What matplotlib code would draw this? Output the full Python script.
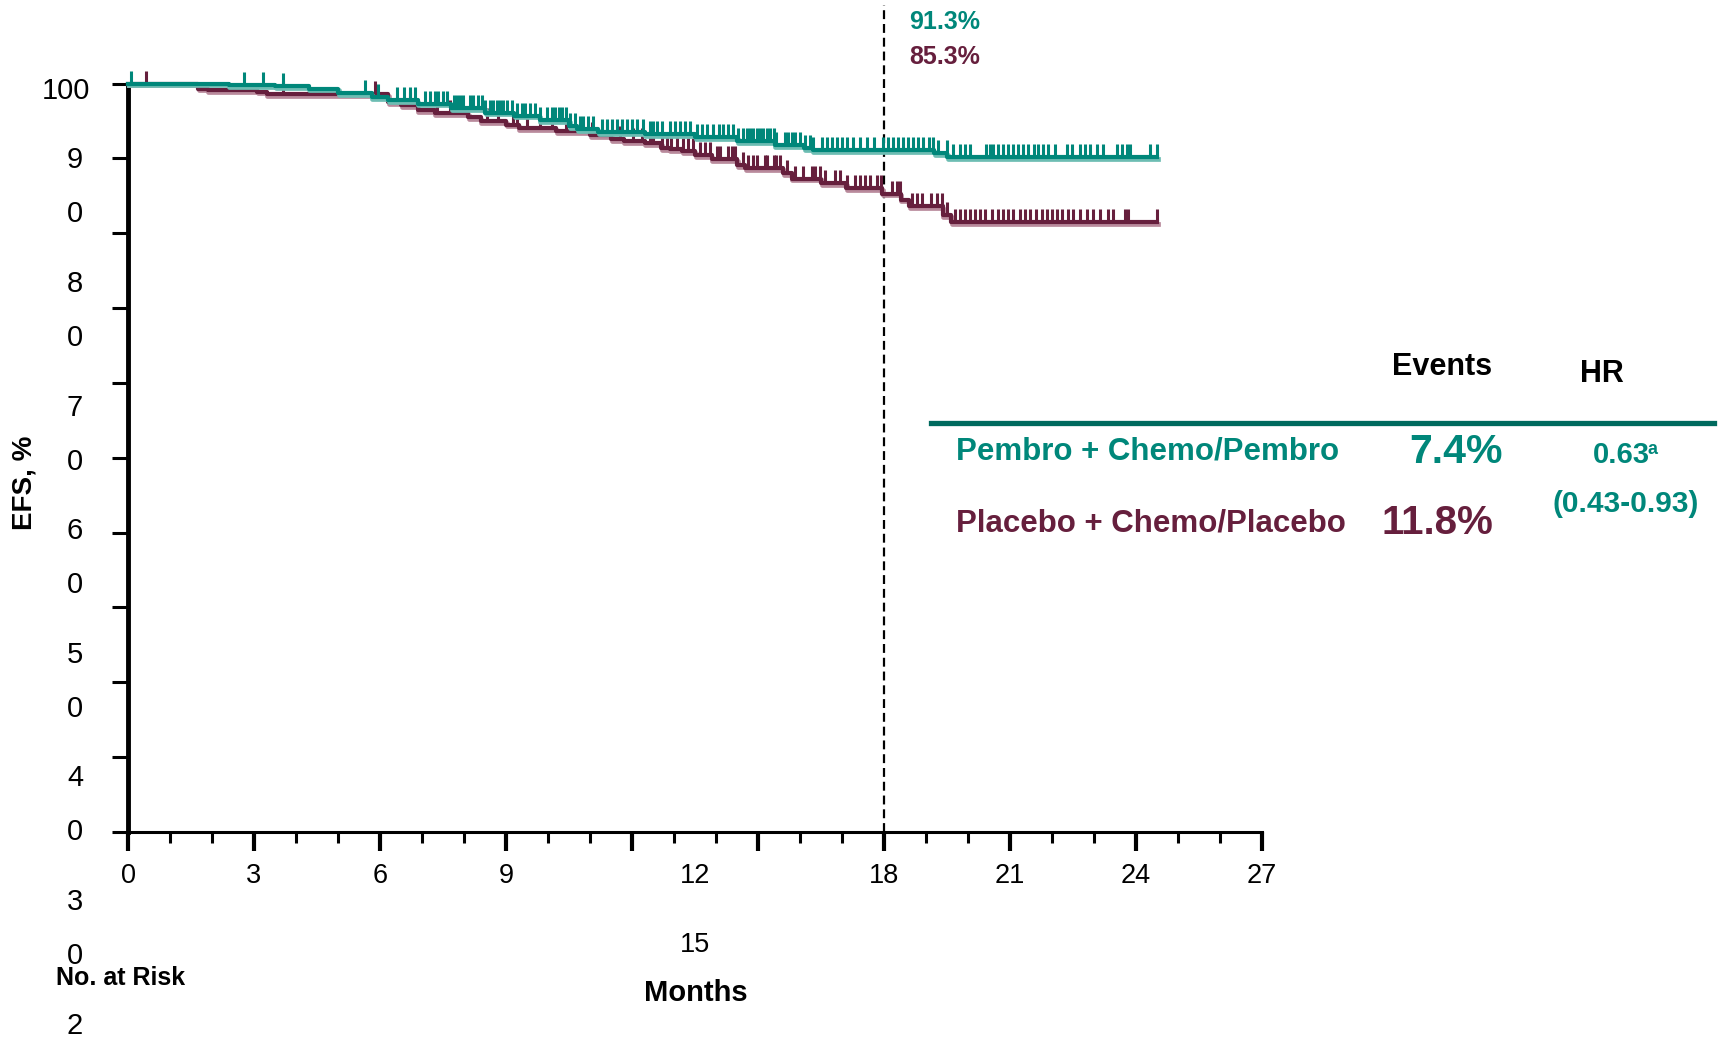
import numpy as np
import matplotlib
matplotlib.use("Agg")
import matplotlib.pyplot as plt
import matplotlib.patheffects as pe
from matplotlib.transforms import blended_transform_factory

plt.rcParams['font.family'] = ['Liberation Sans', 'DejaVu Sans']

# colours
TEAL = '#00877A'
MAROON = '#661F3D'
RULE = '#006A5E'

# KM step data (months, EFS %)
pembro_t = [0, 2.4, 3.5, 4.3, 5.0, 5.8, 6.2, 6.9, 7.7, 8.5, 9.2, 9.8, 10.5, 10.7,
            11.2, 12.3, 13.5, 14.5, 15.4, 16.1, 16.3, 19.2, 19.5]
pembro_s = [100, 99.8, 99.6, 99.3, 98.7, 98.2, 97.8, 97.3, 96.7, 96.1, 95.7, 95.1, 94.3, 93.9,
            93.5, 93.2, 92.8, 92.3, 91.8, 91.4, 91.1, 90.7, 90.2]
placebo_t = [0, 1.67, 1.9, 3.07, 3.3, 6.2, 6.5, 6.9, 7.3, 8.1, 8.4, 9.0, 9.3, 10.2, 11.0,
             11.5, 11.8, 12.3, 12.7, 12.9, 13.2, 13.5, 13.9, 14.5, 14.7, 15.6, 15.8, 16.5,
             17.1, 17.95, 18.4, 18.6, 19.4, 19.6]
placebo_s = [100, 99.3, 99.1, 98.9, 98.6, 97.5, 97.1, 96.4, 96.0, 95.5, 95.0, 94.5, 94.0, 93.6, 93.1,
             92.6, 92.3, 92.0, 91.4, 91.2, 91.0, 90.4, 89.9, 89.1, 88.7, 88.0, 87.3, 86.7,
             86.0, 85.3, 84.5, 83.6, 82.4, 81.5]
end_t = 24.5

# censoring times (months)
pembro_cens = [0.07, 2.75, 3.21, 3.70, 5.64, 5.96, 6.40, 6.56, 6.71, 6.83, 7.07, 7.19, 7.31, 7.39,
               7.51, 7.59, 7.75, 7.83, 7.90, 7.98, 8.14, 8.22, 8.34, 8.42, 8.50, 8.62, 8.70, 8.78,
               8.86, 8.94, 9.02, 9.14, 9.25, 9.37, 9.45, 9.57, 9.69, 9.81, 9.97, 10.09, 10.17,
               10.25, 10.33, 10.44, 10.52, 10.64, 10.76, 10.84, 10.96, 11.08, 11.28, 11.40, 11.52,
               11.64, 11.75, 11.87, 11.99, 12.11, 12.27, 12.43, 12.51, 12.59, 12.71, 12.90, 13.02,
               13.14, 13.26, 13.38, 13.54, 13.66, 13.78, 13.94, 14.06, 14.17, 14.29, 14.41, 14.53,
               14.65, 14.73, 14.81, 14.89, 14.97, 15.05, 15.13, 15.21, 15.29, 15.37, 15.44, 15.64,
               15.72, 15.80, 15.88, 16.00, 16.12, 16.24, 16.32, 16.52, 16.64, 16.75, 16.87, 16.99,
               17.11, 17.27, 17.43, 17.59, 17.75, 17.98, 18.10, 18.22, 18.34, 18.46, 18.58, 18.70,
               18.82, 18.94, 19.06, 19.17, 19.29, 19.49, 19.65, 19.81, 19.93, 20.05, 20.44, 20.52,
               20.60, 20.72, 20.84, 20.96, 21.08, 21.20, 21.32, 21.44, 21.56, 21.67, 21.79, 21.91,
               22.07, 22.35, 22.47, 22.67, 22.79, 22.90, 23.06, 23.22, 23.54, 23.66, 23.78, 23.86,
               24.33, 24.49]
placebo_cens = [0.43, 3.70, 5.88, 6.71, 7.35, 7.67, 8.54, 8.82, 9.17, 9.25, 9.49, 9.81, 10.09, 10.44,
                11.04, 11.40, 11.71, 12.03, 12.23, 12.43, 12.51, 12.71, 12.83, 12.94, 13.06, 13.22,
                13.34, 13.46, 13.62, 13.74, 13.86, 14.02, 14.10, 14.29, 14.37, 14.45, 14.65, 14.77,
                14.89, 14.97, 15.17, 15.21, 15.37, 15.44, 15.52, 15.68, 15.88, 16.08, 16.28, 16.36,
                16.48, 16.60, 16.83, 16.95, 17.11, 17.31, 17.43, 17.55, 17.67, 17.83, 17.94, 18.18,
                18.30, 18.38, 18.66, 18.78, 18.90, 19.13, 19.25, 19.37, 19.49, 19.69, 19.81, 19.93,
                20.05, 20.17, 20.29, 20.40, 20.56, 20.72, 20.84, 20.96, 21.08, 21.24, 21.36, 21.48,
                21.63, 21.75, 21.87, 21.99, 22.11, 22.23, 22.39, 22.51, 22.67, 22.83, 22.98, 23.14,
                23.34, 23.46, 23.74, 23.82, 24.49]

# text content
y_tick_text = ['100', '90', '80', '70', '60', '50', '40', '30', '20']
x_tick_text = ['0', '3', '6', '9', '12', '15', '18', '21', '24', '27']
landmark = 18
landmark_text = ['91.3%', '85.3%']
arms = ['Pembro + Chemo/Pembro', 'Placebo + Chemo/Placebo']
events = ['7.4%', '11.8%']
hr_text = '0.63'
hr_ci = '(0.43-0.93)'

W, H = 1723, 1037


def fx(px):
    return px / W


def fy(py):
    return 1 - py / H


def ftext(x, y, s, **kw):
    kw.setdefault('ha', 'center')
    kw.setdefault('va', 'center')
    fig.text(fx(x), fy(y), s, **kw)


def draw_arm(ax, t, s, cens, color, halo):
    t = np.array(t + [end_t])
    s = np.array(s + [s[-1]])
    ax.step(t, s, where='post', color=color, lw=3.0, clip_on=False, zorder=3,
            path_effects=[pe.Stroke(linewidth=3.4, foreground=halo, offset=(0.5, -1.2)),
                          pe.Normal()])
    idx = np.searchsorted(t, np.array(cens), side='right') - 1
    ax.plot(cens, s[idx], ls='none', marker=[(0, 0), (0, 1)], ms=19, mew=2.2,
            mec=color, color=color, clip_on=False, zorder=3)


fig = plt.figure(figsize=(W / 100, H / 100), dpi=100)
ax = fig.add_axes([fx(128), fy(832), fx(1262) - fx(128), fy(83.5) - fy(832)])
ax.set_xlim(0, 27)
ax.set_ylim(0, 100)

draw_arm(ax, placebo_t, placebo_s, placebo_cens, MAROON, '#B98A9C')
draw_arm(ax, pembro_t, pembro_s, pembro_cens, TEAL, '#6DBDB3')

ax.plot([landmark, landmark], [0, 110.5], color='black', lw=1.6, dashes=(4, 2.2),
        clip_on=False, zorder=2)

for side in ['top', 'right']:
    ax.spines[side].set_visible(False)
ax.spines['left'].set_linewidth(3.5)
ax.spines['bottom'].set_linewidth(2.2)
ax.set_yticks(np.arange(0, 101, 10))
ax.set_xticks(np.arange(0, 28, 3))
ax.set_xticks(np.arange(0, 28, 1), minor=True)
ax.tick_params(axis='y', length=11.5, width=2.2, direction='out', labelleft=False)
ax.tick_params(axis='x', which='major', length=14, width=3, labelbottom=False)
ax.tick_params(axis='x', which='minor', length=8, width=2.2)

# y labels wrapped digit by digit, as in the source slide
ftext(66, 91, y_tick_text[0], fontsize=21)
for k, lab in enumerate(y_tick_text[1:]):
    y0 = 160.4 + k * 123.6
    ftext(75, y0, lab[0], fontsize=21)
    ftext(75, y0 + 54, lab[1], fontsize=21)

# x labels (12 and 15 are displaced in the source)
tr = blended_transform_factory(ax.transData, fig.transFigure)
for lab in x_tick_text:
    v = int(lab)
    if v == 12:
        ax.text(13.5, fy(876), lab, transform=tr, ha='center', va='center', fontsize=19.5)
    elif v == 15:
        ax.text(13.5, fy(945), lab, transform=tr, ha='center', va='center', fontsize=19.5)
    else:
        ax.text(v, fy(876), lab, transform=tr, ha='center', va='center', fontsize=19.5)

ftext(24, 483, 'EFS, %', fontsize=20, fontweight='bold', rotation=90)
ftext(121, 978, 'No. at Risk', fontsize=18, fontweight='bold')
ftext(696, 993, 'Months', fontsize=21, fontweight='bold')

ftext(945, 22, landmark_text[0], fontsize=18, fontweight='bold', color=TEAL)
ftext(945, 57, landmark_text[1], fontsize=18, fontweight='bold', color=MAROON)

# summary table
ftext(1442, 367, 'Events', fontsize=22, fontweight='bold')
ftext(1602, 374, 'HR', fontsize=22, fontweight='bold')
fig.add_artist(plt.Line2D([fx(931), fx(1714)], [fy(423), fy(423)], color=RULE, lw=3.8))
ftext(956, 452, arms[0], fontsize=22.5, fontweight='bold', color=TEAL, ha='left')
ftext(956, 523, arms[1], fontsize=22.5, fontweight='bold', color=MAROON, ha='left')
ftext(1456, 452, events[0], fontsize=29.5, fontweight='bold', color=TEAL)
ftext(1437, 523, events[1], fontsize=29, fontweight='bold', color=MAROON)
ftext(1650, 455, hr_text, fontsize=21, fontweight='bold', color=TEAL, ha='right')
ftext(1647, 449, 'a', fontsize=13, fontweight='bold', color=TEAL, ha='left')
ftext(1626, 504, hr_ci, fontsize=21.5, fontweight='bold', color=TEAL)

fig.savefig('out.png', dpi=100)
